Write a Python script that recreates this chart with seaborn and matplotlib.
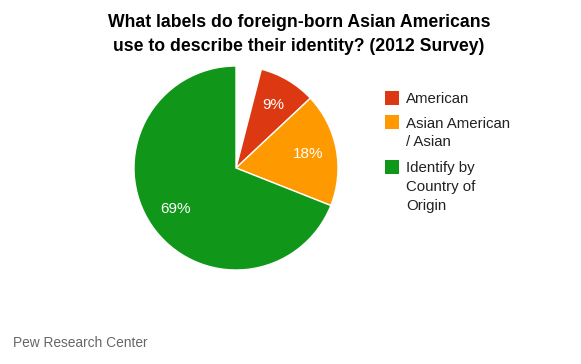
import seaborn as sns
import matplotlib
matplotlib.use("Agg")
from matplotlib import pyplot as plt
from matplotlib.patches import Rectangle

# data
categories = ["American", "Asian American\n/ Asian", "Identify by\nCountry of\nOrigin"]
shares = [9, 18, 69]
other_share = 4  # unlabeled remainder shown as an empty gap
colors = ["#DC3912", "#FF9900", "#109618"]

sns.set_theme(style="white")
plt.rcParams['font.family'] = ['Liberation Sans', 'DejaVu Sans']

W, H = 581, 364
fig = plt.figure(figsize=(W / 100, H / 100), dpi=100)
ax = fig.add_axes([(236 - 102) / W, (196 - 102) / H, 204 / W, 204 / H])

values = [other_share] + shares
wedge_colors = ["white"] + colors
wedges, texts, autotexts = ax.pie(
    values, colors=wedge_colors, startangle=90, counterclock=False,
    autopct=lambda p: f"{round(p)}%", pctdistance=0.72,
    wedgeprops=dict(edgecolor="white", linewidth=1),
    textprops=dict(color="white", fontsize=11))
autotexts[0].set_visible(False)
ax.set_xlim(-1, 1)
ax.set_ylim(-1, 1)
ax.set_aspect("equal")

# legend drawn by hand so wrapped labels keep the square on the first line
y = 97.5
for label, color in zip(categories, colors):
    fig.patches.append(Rectangle((385 / W, 1 - (y + 7) / H), 14 / W, 14 / H,
                                 transform=fig.transFigure, facecolor=color, edgecolor="none"))
    fig.text(406 / W, 1 - (y - 5.5) / H, label, ha="left", va="top", fontsize=10.8,
             color="#222222", linespacing=1.45)
    y += 20 * (label.count("\n")) + 24.5

fig.text(299 / W, 1 - 34.5 / H,
         "What labels do foreign-born Asian Americans\nuse to describe their identity? (2012 Survey)",
         ha="center", va="center", fontsize=12.7, fontweight="bold", color="black", linespacing=1.5)
fig.text(13 / W, 1 - 343 / H, "Pew Research Center", ha="left", va="center",
         fontsize=9.9, color="#666666")

fig.savefig("out.png", dpi=100, facecolor="white")
